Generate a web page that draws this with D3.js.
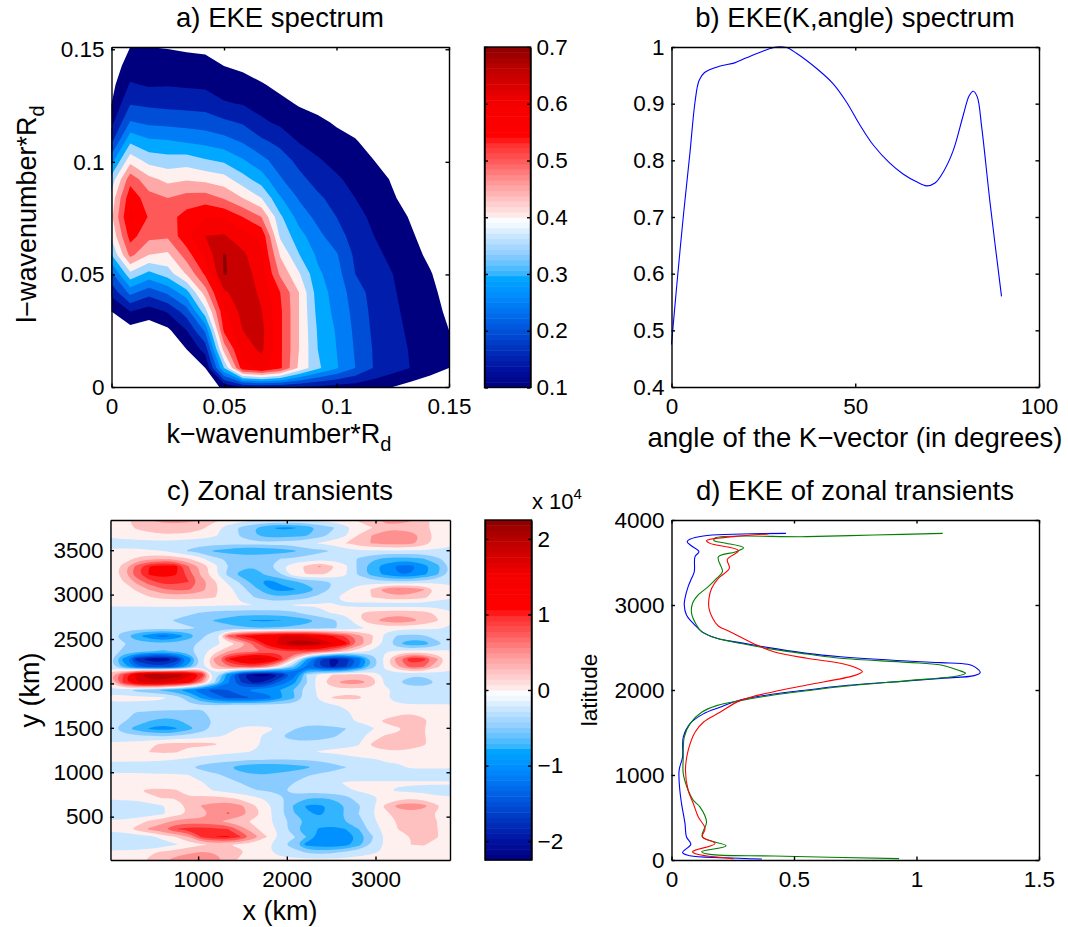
<!DOCTYPE html>
<html>
  <head>
    <title>EKE spectra and zonal transients</title>
    <script src="https://d3js.org/d3.v7.min.js"></script>
    <style>
      body { margin: 0; background: #fff; }
      svg { display: block; }
      text { font-family: "Liberation Sans", Arial, sans-serif; fill: #000; }
      .axis path, .axis line { stroke: #000; stroke-width: 1.4px; }
      .axis text { font-size: 22.5px; }
    </style>
  </head>
  <body>
    <svg id="fig" width="1068" height="927"></svg>

    <script>
      // panel a: EKE(k,l), one list per k column, l running from 0.15 down to 0
      var ekeK = [0, 0.00833, 0.01667, 0.025, 0.03333, 0.04167, 0.05, 0.05833, 0.06667, 0.075, 0.08333, 0.09167, 0.1, 0.10833, 0.11667, 0.125, 0.13333, 0.14167, 0.15];
      var ekeL = [0.15, 0.14167, 0.13333, 0.125, 0.11667, 0.10833, 0.1, 0.09167, 0.08333, 0.075, 0.06667, 0.05833, 0.05, 0.04167, 0.03333, 0.025, 0.01667, 0.00833, 0];
      var ekeColumns = [
        [.05,.07,.085,.10,.135,.19,.28,.37,.42,.44,.41,.35,.24,.165,.10,.07,.05,.03,.02],
        [.10,.125,.155,.197,.255,.34,.43,.53,.585,.61,.57,.515,.387,.265,.15,.08,.05,.03,.02],
        [.10,.125,.145,.19,.24,.31,.38,.465,.52,.545,.515,.45,.335,.22,.125,.07,.04,.02,.01],
        [.097,.125,.147,.185,.235,.305,.37,.435,.50,.53,.51,.44,.375,.26,.155,.09,.05,.03,.01],
        [.093,.118,.143,.183,.23,.295,.375,.445,.52,.57,.585,.525,.455,.33,.225,.15,.10,.06,.04],
        [.09,.115,.14,.18,.225,.285,.355,.435,.525,.60,.65,.615,.56,.475,.38,.26,.17,.10,.07],
        [.07,.10,.125,.155,.21,.27,.34,.42,.495,.595,.655,.705,.705,.64,.59,.56,.47,.35,.11],
        [.05,.09,.12,.147,.195,.245,.305,.37,.45,.55,.62,.66,.675,.68,.67,.65,.625,.58,.15],
        [.04,.07,.105,.13,.16,.21,.265,.325,.40,.50,.59,.61,.625,.64,.652,.665,.66,.62,.16],
        [.03,.055,.085,.115,.14,.185,.225,.255,.305,.36,.39,.445,.49,.55,.56,.56,.56,.56,.16],
        [.02,.04,.07,.095,.125,.147,.185,.215,.245,.28,.32,.352,.405,.45,.45,.45,.45,.44,.15],
        [.01,.03,.055,.085,.11,.13,.155,.18,.21,.235,.265,.29,.31,.325,.335,.345,.35,.36,.14],
        [.01,.02,.04,.065,.095,.115,.135,.157,.18,.20,.22,.255,.27,.28,.285,.295,.30,.305,.13],
        [0,.01,.03,.05,.075,.105,.12,.135,.15,.165,.18,.19,.20,.225,.235,.24,.245,.25,.125],
        [0,0,.02,.035,.055,.075,.10,.12,.13,.14,.15,.16,.17,.18,.185,.19,.195,.197,.115],
        [0,0,.01,.02,.035,.055,.075,.095,.105,.12,.13,.14,.15,.155,.16,.165,.17,.17,.10],
        [0,0,0,.01,.02,.035,.05,.065,.08,.095,.105,.115,.125,.13,.135,.14,.145,.148,.08],
        [0,0,0,0,.01,.02,.03,.045,.055,.07,.08,.09,.103,.11,.12,.12,.12,.125,.06],
        [0,0,0,0,0,.01,.02,.03,.035,.045,.055,.065,.075,.085,.09,.10,.105,.10,.05]
      ];
      var ekeLevels = d3.range(0.1, 0.7001, 0.05);
      var ekeCbarTicks = [0.1, 0.2, 0.3, 0.4, 0.5, 0.6, 0.7];

      // panel b: normalised spectrum against angle
      var angleDeg = [0,1.4,3.2,5,6.4,7.5,9,13,17.2,20.4,25,28.6,31.3,34,39.5,44,47.6,51.3,54.9,59.4,63,66.7,69.4,71.7,74,76.7,79.4,81,82.1,83.2,84.4,86.7,89.8];
      var angleEke = [.475,.577,.70,.812,.903,.941,.955,.966,.972,.981,.993,1,.999,.989,.962,.935,.903,.862,.827,.795,.776,.762,.755,.76,.78,.818,.88,.914,.922,.912,.859,.724,.56];

      // panel c: zonal transients, rows from the top (y=3840) to the bottom (y=12), in 0.01 x 10^4
      var transX = d3.range(27).map(function(j) { return 12 + j * 147.2; });
      var transY = d3.range(45).map(function(i) { return 3840 - i * 87; });
      var transRows = [
        [8,20,32,50,55,55,55,50,30,20,10,5,5,5,5,5,8,10,18,28,40,55,55,52,38,12,8],
        [8,15,28,36,42,42,40,30,10,-12,-30,-50,-72,-80,-78,-68,-45,-28,-8,12,24,45,45,42,32,12,8],
        [5,8,12,18,20,20,18,12,3,-10,-28,-48,-60,-62,-58,-52,-35,-18,-2,27,50,58,62,58,45,15,8],
        [-8,-10,-10,-10,-10,-12,-15,-16,-16,-16,-16,-16,-15,-14,-10,-4,2,10,25,38,52,60,60,58,38,12,4],
        [3,5,4,2,0,-15,-28,-38,-55,-62,-70,-75,-68,-62,-55,-38,-30,-25,-12,-3,-4,-4,-4,-4,-4,-4,-4],
        [3,10,30,40,42,40,25,5,-20,-27,-28,-27,-26,-25,-22,-18,-12,-12,-12,-28,-42,-55,-58,-58,-50,-30,-15],
        [3,35,85,125,140,135,75,42,8,-25,-40,-48,-30,-5,15,30,55,27,5,-30,-65,-85,-105,-110,-85,-60,-20],
        [5,40,92,130,135,128,85,42,3,-32,-62,-65,-42,-28,14,26,28,22,3,-30,-60,-82,-100,-100,-82,-55,-18],
        [5,25,58,90,112,108,100,62,28,-5,-30,-62,-85,-70,-55,-42,-35,-25,-10,-6,-12,-18,-20,-18,-12,-6,-3],
        [4,14,28,52,70,80,78,58,30,10,-15,-40,-70,-85,-78,-65,-45,-20,-3,8,28,62,78,68,52,20,6],
        [3,8,14,24,32,33,32,30,26,12,-5,-25,-38,-45,-38,-30,-15,-2,5,15,25,35,40,38,30,10,3],
        [2,2,2,3,3,4,4,4,3,3,2,0,-2,-2,1,3,2,1,-2,-8,-12,-14,-14,-14,-14,-12,-10],
        [-8,-8,-8,-9,-10,-12,-18,-27,-32,-35,-37,-37,-37,-35,-30,-15,-5,2,8,24,32,38,38,38,34,20,3],
        [-10,-12,-14,-16,-18,-28,-38,-42,-52,-60,-72,-78,-78,-76,-68,-60,-45,-30,-15,20,45,58,70,58,45,28,3],
        [-12,-12,-14,-14,-14,-14,-20,-28,-38,-40,-44,-48,-48,-46,-42,-38,-32,-28,-20,-6,4,8,8,6,4,2,-2],
        [-15,-40,-72,-95,-115,-95,-68,-30,-4,85,125,145,165,175,180,175,155,125,95,60,30,-5,-28,-32,-28,-14,-10],
        [-12,-22,-35,-38,-42,-38,-30,-20,-8,8,35,80,140,195,215,220,205,175,135,70,25,-5,-50,-70,-65,-35,-12],
        [-12,-30,-42,-48,-52,-48,-30,-8,15,50,60,70,80,90,100,100,85,60,30,8,-5,-3,5,8,8,5,2],
        [-20,-85,-165,-190,-200,-170,-95,-10,60,125,170,190,180,125,30,-70,-150,-185,-170,-115,-50,10,70,120,110,55,6],
        [-12,-60,-110,-135,-140,-115,-60,-5,40,70,85,90,60,10,-45,-105,-150,-180,-150,-100,-40,3,45,85,75,30,4],
        [45,100,190,220,225,220,190,120,-10,-90,-170,-205,-210,-175,-120,-25,8,25,28,30,20,-5,-14,-20,-20,-12,-3],
        [30,110,170,190,185,165,140,60,-25,-95,-150,-185,-165,-115,-85,-28,15,45,60,62,45,-5,-25,-40,-40,-25,-6],
        [-6,-12,-35,-42,-55,-70,-90,-120,-135,-125,-110,-90,-85,-75,-50,-10,4,12,15,15,12,5,-4,-8,-10,-6,-3],
        [4,6,7,6,3,-8,-40,-80,-112,-130,-130,-125,-115,-80,-55,-15,3,27,32,30,12,2,-8,-16,-18,-18,-18],
        [-4,-6,-8,-8,-10,-12,-18,-22,-22,-20,-15,-14,-14,-14,-14,-10,-6,-2,2,5,6,4,3,3,3,3,3],
        [-6,-14,-28,-30,-34,-32,-30,-28,-18,-12,-12,-12,-12,-12,-10,-8,-7,-5,-2,3,5,3,20,24,15,5,3],
        [-10,-22,-36,-50,-60,-55,-40,-35,-22,-12,-12,-10,-10,-10,-10,-10,-9,-6,-3,2,8,32,38,40,32,6,3],
        [-15,-42,-60,-78,-88,-78,-58,-38,-14,-6,3,5,3,-2,-22,-35,-38,-32,-26,-10,-3,10,22,32,26,5,2],
        [-8,-12,-18,-22,-25,-20,-14,-8,-3,3,6,3,-4,-25,-38,-40,-38,-28,-18,-8,10,28,28,32,28,5,3],
        [3,5,10,20,30,32,32,32,28,8,5,3,-3,-8,-12,-12,-12,-8,-6,-2,28,36,38,38,30,5,3],
        [3,4,6,26,30,28,14,10,8,5,2,-1,-5,-8,-10,-5,2,4,6,8,18,22,22,18,8,5,3],
        [3,3,3,2,2,0,-3,-8,-12,-16,-18,-22,-25,-25,-24,-22,-20,-15,-8,-4,-2,2,3,3,3,3,3],
        [-6,-8,-8,-8,-10,-12,-22,-35,-42,-48,-62,-68,-68,-66,-62,-55,-42,-35,-26,-10,-5,-4,-3,2,3,3,2],
        [2,3,3,2,2,2,0,-8,-20,-30,-42,-48,-48,-42,-36,-28,-20,-16,-12,-12,-12,-14,-14,-14,-14,-14,-14],
        [3,3,3,3,3,3,3,1,-8,-16,-26,-30,-32,-30,-26,-10,-8,-4,2,3,3,3,3,3,3,3,3],
        [2,3,22,32,32,28,5,3,-1,-10,-16,-24,-27,-30,-14,-13,-12,-8,-3,2,2,3,-3,-5,-8,-8,-8],
        [2,3,4,18,26,25,30,35,32,28,18,6,-5,-20,-38,-50,-50,-48,-35,-14,-2,2,15,20,15,4,3],
        [-6,-8,-10,-8,-2,15,30,52,60,68,55,28,5,-15,-52,-78,-80,-70,-50,-28,-8,30,58,68,58,30,5],
        [-8,-12,-14,-12,-4,14,28,38,60,78,60,38,10,-18,-48,-70,-80,-65,-45,-25,-4,18,35,40,35,22,3],
        [2,4,12,30,40,55,62,58,55,42,32,18,5,-10,-35,-52,-60,-58,-50,-36,-4,8,28,30,28,25,3],
        [3,8,35,55,72,100,110,112,105,100,62,32,8,-5,-45,-62,-78,-85,-75,-50,-10,5,25,30,32,26,4],
        [-6,-10,-14,-10,10,25,50,105,125,130,100,62,25,-4,-20,-50,-85,-95,-90,-70,-30,3,24,25,32,28,3],
        [-8,-14,-22,-25,-14,-3,12,22,28,25,22,12,5,-18,-40,-85,-90,-95,-85,-60,-20,3,8,25,28,10,2],
        [3,5,10,20,30,38,46,52,48,35,28,12,3,-5,-12,-28,-35,-30,-20,-10,-3,2,4,12,10,3,2],
        [3,5,15,30,45,60,65,68,58,45,18,8,3,4,6,8,8,8,8,8,10,12,6,3,3,3,3]
      ];
      var transLevels = d3.range(-225, 226, 25);
      var transCbarTicks = [-2, -1, 0, 1, 2];

      // panel d: three EKE profiles, each as parallel lists of value and latitude
      var blueEke = [.467,.13,.075,.064,.082,.112,.096,.093,.082,.068,.055,.052,.061,.082,.109,.13,.184,.28,.417,.553,.69,.963,1.1,1.209,1.236,1.26,1.236,1.1,.963,.69,.553,.417,.28,.198,.13,.075,.048,.045,.031,.034,.041,.055,.061,.079,.045,.075,.212,.369];
      var blueLat = [3843,3812,3773,3745,3694,3627,3569,3392,3314,3216,3078,3000,2882,2804,2725,2675,2608,2557,2490,2431,2392,2341,2322,2302,2275,2204,2169,2137,2106,2047,2000,1953,1882,1797,1719,1602,1445,1211,1055,820,664,430,273,187,86,51,27,12];
      var greenEke = [1.107,.826,.553,.178,.173,.212,.294,.26,.191,.208,.184,.15,.109,.086,.082,.102,.123,.164,.28,.417,.553,.69,.963,1.1,1.168,1.2,1.168,.963,.69,.553,.417,.28,.184,.123,.075,.052,.048,.048,.068,.089,.116,.143,.126,.223,.123,.157,.417,.929];
      var greenLat = [3843,3823,3804,3788,3760,3733,3674,3624,3565,3392,3314,3216,3118,3020,2902,2765,2686,2627,2549,2478,2423,2373,2325,2294,2235,2196,2165,2110,2039,1992,1941,1875,1816,1738,1602,1445,1211,1016,820,703,625,449,273,168,98,66,47,16];
      var redEke = [.396,.253,.143,.157,.273,.228,.236,.191,.164,.153,.153,.168,.191,.239,.348,.417,.553,.69,.758,.779,.745,.553,.417,.28,.198,.13,.096,.068,.057,.068,.089,.109,.137,.126,.178,.086,.102,.253];
      var redLat = [3835,3804,3757,3725,3639,3537,3431,3314,3196,3078,2961,2843,2753,2686,2529,2451,2373,2314,2255,2216,2169,2059,1980,1875,1738,1621,1504,1289,1055,820,664,508,371,273,195,98,70,16];

      var svg = d3.select("#fig");

      // colormap shared by both colorbars, given on the -2.25..2.25 range of panel c
      var cmap = d3.scaleLinear()
        .domain([-2.25,-2,-1.5,-1.25,-1,-0.76,-0.75,-0.5,-0.25,-0.1,-0.001,0,0.25,0.5,0.75,1,1.05,1.5,1.75,2,2.25])
        .range(["#00007f","#0010a0","#0050d8","#0070f0","#0090ff","#00aaff","#33b4ff","#8accff","#c8e6ff","#f0f8ff","#ffffff","#fff0f0","#ffc0c0","#ff9090","#ff5858","#ff2828","#ff0000","#f60000","#d80000","#b80000","#8b0000"])
        .clamp(true);

      function drawAxes(g, x, y, xTicks, yTicks, xFmt, yFmt) {
        var w = x.range()[1], h = y.range()[0];
        g.append("g").attr("class", "axis").attr("transform", "translate(0," + h + ")")
          .call(d3.axisBottom(x).tickValues(xTicks).tickFormat(xFmt).tickSize(-3.5).tickSizeOuter(0).tickPadding(11));
        g.append("g").attr("class", "axis")
          .call(d3.axisTop(x).tickValues(xTicks).tickFormat("").tickSize(-3.5).tickSizeOuter(0));
        g.append("g").attr("class", "axis")
          .call(d3.axisLeft(y).tickValues(yTicks).tickFormat(yFmt).tickSize(-3.5).tickSizeOuter(0).tickPadding(7));
        g.append("g").attr("class", "axis").attr("transform", "translate(" + w + ",0)")
          .call(d3.axisRight(y).tickValues(yTicks).tickFormat("").tickSize(-3.5).tickSizeOuter(0));
      }

      function drawFilled(g, id, values, nx, ny, levels, colorOf, px, py, smooth) {
        var w = px.range()[1], h = py.range()[0];
        g.append("clipPath").attr("id", id).append("rect").attr("width", w).attr("height", h);
        var layer = g.append("g").attr("clip-path", "url(#" + id + ")");
        var line = d3.line().x(function(p) { return px(p[0]); }).y(function(p) { return py(p[1]); });
        if (smooth) line.curve(d3.curveBasisClosed);
        var contours = d3.contours().size([nx, ny]).thresholds(levels)(values);
        layer.selectAll("path").data(contours).enter().append("path")
          .attr("fill", function(d) { return colorOf(d.value); })
          .attr("fill-rule", "evenodd")
          .attr("d", function(d) {
            return d.coordinates.map(function(poly) {
              return poly.map(function(ring) {
                return line(smooth ? ring.slice(0, -1) : ring) + "Z";
              }).join("");
            }).join("");
          });
      }

      function drawColorbar(g, w, h, domain, ticks, fmt) {
        var cy = d3.scaleLinear().domain(domain).range([h, 0]);
        var n = 64, step = h / n;
        g.selectAll("rect.cell").data(d3.range(n)).enter().append("rect")
          .attr("class", "cell")
          .attr("x", 0).attr("width", w)
          .attr("y", function(i) { return h - (i + 1) * step; })
          .attr("height", step + 0.5)
          .attr("fill", function(i) { return cmap(-2.25 + (i + 0.5) * 4.5 / n); });
        g.append("g").attr("class", "axis").call(d3.axisLeft(cy).tickValues(ticks).tickFormat("").tickSize(-3.5).tickSizeOuter(0));
        g.append("g").attr("class", "axis").attr("transform", "translate(" + w + ",0)")
          .call(d3.axisRight(cy).tickValues(ticks).tickFormat(fmt).tickSize(-3.5).tickSizeOuter(0).tickPadding(6));
        g.append("rect").attr("width", w).attr("height", h).attr("fill", "none").attr("stroke", "#000").attr("stroke-width", 1.4);
      }

      function title(str, x, y) {
        svg.append("text").attr("x", x).attr("y", y).attr("text-anchor", "middle").style("font-size", "27.5px").text(str);
      }

      function plain(d) { return String(d); }
      function minus(d) { return String(d).replace("-", "\u2212"); }

      // ---- a) EKE spectrum
      var gA = svg.append("g").attr("transform", "translate(111.5,47)");
      var xA = d3.scaleLinear().domain([0, 0.15]).range([0, 337.5]);
      var yA = d3.scaleLinear().domain([0, 0.151]).range([340, 0]);
      // contour coordinates put grid node i at i+0.5
      var cxA = d3.scaleLinear().domain([0.5, 18.5]).range([0, 337.5]);
      var cyA = d3.scaleLinear().domain([18.5, 0.5]).range([340, 0]);
      drawFilled(gA, "clipA", d3.transpose(ekeColumns).flat(), ekeK.length, ekeL.length, ekeLevels,
        function(v) {
          var t = (v - 0.4) / 0.3 * 2.25;
          return cmap(t < -0.01 ? t - 0.02 : t);
        }, cxA, cyA, false);
      drawAxes(gA, xA, yA, [0, 0.05, 0.1, 0.15], [0, 0.05, 0.1, 0.15], plain, plain);
      drawColorbar(svg.append("g").attr("transform", "translate(484.5,47)"), 46, 340.5, [0.1, 0.7], ekeCbarTicks, plain);
      title("a) EKE spectrum", 280, 27);
      var xlA = svg.append("text").attr("x", 279).attr("y", 443).attr("text-anchor", "middle").style("font-size", "27px");
      xlA.append("tspan").text("k\u2212wavenumber*R");
      xlA.append("tspan").attr("dy", 8).style("font-size", "20px").text("d");
      var ylA = svg.append("text").attr("transform", "translate(36,214) rotate(-90)").attr("text-anchor", "middle").style("font-size", "27px");
      ylA.append("tspan").text("l\u2212wavenumber*R");
      ylA.append("tspan").attr("dy", 8).style("font-size", "20px").text("d");

      // ---- b) EKE(K,angle) spectrum
      var gB = svg.append("g").attr("transform", "translate(671.5,47)");
      var xB = d3.scaleLinear().domain([0, 100]).range([0, 367.5]);
      var yB = d3.scaleLinear().domain([0.4, 1]).range([340, 0]);
      gB.append("path").datum(angleDeg)
        .attr("fill", "none").attr("stroke", "#0000ff").attr("stroke-width", 1.1)
        .attr("d", d3.line().x(function(d) { return xB(d); }).y(function(d, i) { return yB(angleEke[i]); }).curve(d3.curveCatmullRom));
      drawAxes(gB, xB, yB, [0, 50, 100], [0.4, 0.5, 0.6, 0.7, 0.8, 0.9, 1], plain, plain);
      title("b) EKE(K,angle) spectrum", 855, 27);
      svg.append("text").attr("x", 855).attr("y", 447).attr("text-anchor", "middle").style("font-size", "27.5px").text("angle of the K\u2212vector (in degrees)");

      // ---- c) Zonal transients
      var gC = svg.append("g").attr("transform", "translate(110.5,520)");
      var xC = d3.scaleLinear().domain([12, 3840]).range([0, 339.5]);
      var yC = d3.scaleLinear().domain([12, 3840]).range([340, 0]);
      var cxC = d3.scaleLinear().domain([0.5, 26.5]).range([0, 339.5]);
      var cyC = d3.scaleLinear().domain([44.5, 0.5]).range([340, 0]);
      drawFilled(gC, "clipC", transRows.flat(), transX.length, transY.length, transLevels,
        function(v) { return cmap(v / 100); }, cxC, cyC, true);
      drawAxes(gC, xC, yC, [1000, 2000, 3000], [500, 1000, 1500, 2000, 2500, 3000, 3500], plain, plain);
      drawColorbar(svg.append("g").attr("transform", "translate(485,520)"), 46.5, 340, [-2.25, 2.25], transCbarTicks, minus);
      title("c) Zonal transients", 280, 500);
      svg.append("text").attr("x", 280).attr("y", 920).attr("text-anchor", "middle").style("font-size", "27px").text("x (km)");
      svg.append("text").attr("transform", "translate(39,690) rotate(-90)").attr("text-anchor", "middle").style("font-size", "27px").text("y (km)");
      var sci = svg.append("text").attr("x", 532).attr("y", 509).style("font-size", "22px");
      sci.append("tspan").text("x 10");
      sci.append("tspan").attr("dy", -10).style("font-size", "15px").text("4");

      // ---- d) EKE of zonal transients
      var gD = svg.append("g").attr("transform", "translate(671.5,520)");
      var xD = d3.scaleLinear().domain([0, 1.5]).range([0, 367.5]);
      var yD = d3.scaleLinear().domain([0, 4000]).range([340, 0]);
      [[blueEke, blueLat, "#0000ff"], [greenEke, greenLat, "#007f00"], [redEke, redLat, "#ff0000"]].forEach(function(s) {
        gD.append("path").datum(s[0])
          .attr("fill", "none").attr("stroke", s[2]).attr("stroke-width", 1.1)
          .attr("d", d3.line().x(function(d) { return xD(d); }).y(function(d, i) { return yD(s[1][i]); }).curve(d3.curveCatmullRom));
      });
      drawAxes(gD, xD, yD, [0, 0.5, 1, 1.5], [0, 1000, 2000, 3000, 4000], plain, plain);
      title("d) EKE of zonal transients", 855, 500);
      svg.append("text").attr("transform", "translate(597,690) rotate(-90)").attr("text-anchor", "middle").style("font-size", "22.5px").text("latitude");
    </script>
  </body>
</html>
